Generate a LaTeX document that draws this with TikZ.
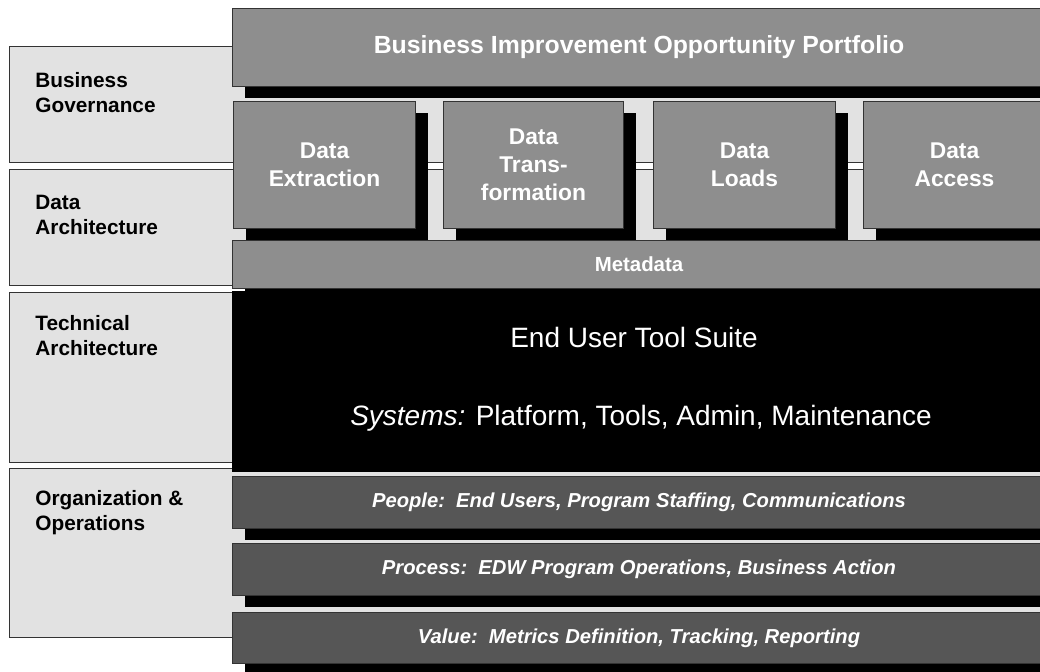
\documentclass[tikz,border=0pt]{standalone}
\usepackage{amssymb}
\usepackage{amsmath}
\usepackage{fontspec}
\usepackage{xcolor}
\usetikzlibrary{shadows}
\setmainfont{Liberation Sans}
\definecolor{layerlight}{RGB}{226,226,226}
\definecolor{layermid}{RGB}{142,142,142}
\definecolor{layerdark}{RGB}{86,86,86}
\tikzset{
    leftbox/.style={draw=black!80, line width=0.5pt, fill=layerlight, anchor=north west, inner sep=0pt},
    leftlabel/.style={anchor=north west, inner sep=0pt, align=left, font=\bfseries\fontsize{10.4}{12.5}\selectfont},
    boxshadow/.style={drop shadow={shadow xshift=6.3pt, shadow yshift=-6pt, fill=black, opacity=1}},
    greybox/.style={draw=black!80, line width=0.5pt, fill=layermid, anchor=north west, inner sep=0pt, text=white, align=center, boxshadow},
    darkbar/.style={draw=black!80, line width=0.5pt, fill=layerdark, anchor=north west, inner sep=0pt, text=white, boxshadow, minimum width=406.5pt, font=\bfseries\itshape\fontsize{10.1}{12}\selectfont},
    datafont/.style={font=\bfseries\fontsize{11.4}{14}\selectfont}
}
\begin{document}
\begin{tikzpicture}[x=0.5pt,y=-0.5pt]
    \useasboundingbox (0,0) rectangle (1040,672);
    \node[leftbox, minimum width=515.5pt, minimum height=58pt] (govbox) at (9,46) {};
    \node[leftbox, minimum width=515.5pt, minimum height=58pt] (databox) at (9,169) {};
    \node[leftbox, minimum width=515.5pt, minimum height=85pt] (techbox) at (9,292) {};
    \node[leftbox, minimum width=515.5pt, minimum height=84.5pt] (orgbox) at (9,468) {};
    \node[leftlabel] (govlabel) at (35,72) {Business\\Governance};
    \node[leftlabel] (datalabel) at (35,195) {Data\\Architecture};
    \node[leftlabel] (techlabel) at (35,315) {Technical\\Architecture};
    \node[leftlabel] (orglabel) at (35,490) {Organization \&\\Operations};
    \node[greybox, minimum width=406.5pt, minimum height=39pt, font=\bfseries\fontsize{12.4}{14}\selectfont] (portfolio) at (232,8) {Business Improvement Opportunity Portfolio};
    \node[greybox, datafont, minimum width=91pt, minimum height=63.5pt] (extraction) at (233,101) {Data\\Extraction};
    \node[greybox, datafont, minimum width=90pt, minimum height=63.5pt] (transformation) at (443,101) {Data\\Trans-\\formation};
    \node[greybox, datafont, minimum width=91pt, minimum height=63.5pt] (loads) at (653,101) {Data\\Loads};
    \node[greybox, datafont, minimum width=91pt, minimum height=63.5pt] (access) at (863,101) {Data\\Access};
    \node[greybox, minimum width=406.5pt, minimum height=24pt, font=\bfseries\fontsize{10.2}{12}\selectfont] (metadata) at (232,240) {Metadata};
    \node[fill=black, anchor=north west, inner sep=0pt, minimum width=406.5pt, minimum height=90.5pt] (toolblock) at (232,291) {};
    \node[text=white, inner sep=0pt, font=\fontsize{14}{16}\selectfont] (toolsuite) at (634,337) {End User Tool Suite};
    \node[text=white, inner sep=0pt, font=\fontsize{14}{16}\selectfont] (systems) at (641,418) {\textit{Systems:} Platform, Tools, Admin, Maintenance};
    \node[darkbar, minimum height=26pt] (people) at (232,476) {People:\ \ End Users, Program Staffing, Communications};
    \node[darkbar, minimum height=26pt] (process) at (232,543) {Process:\ \ EDW Program Operations, Business Action};
    \node[darkbar, minimum height=25.5pt] (value) at (232,612) {Value:\ \ Metrics Definition, Tracking, Reporting};
\end{tikzpicture}
\end{document}
